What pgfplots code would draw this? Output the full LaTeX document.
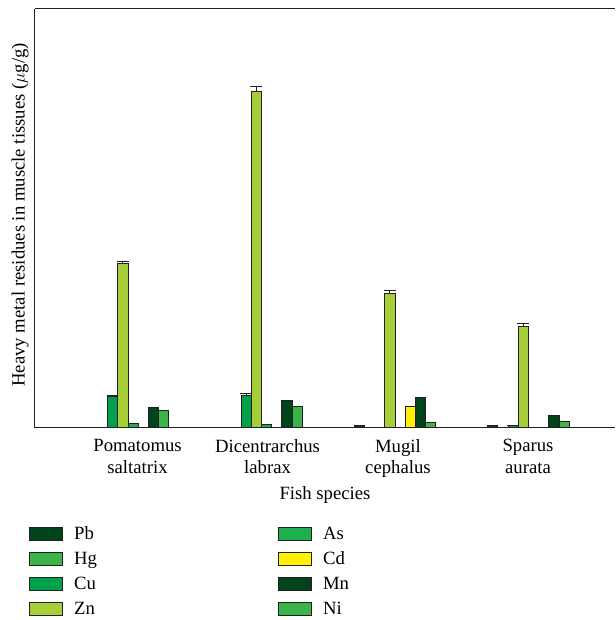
\documentclass[border=0pt]{standalone}
\usepackage{fontspec}
\setmainfont{Liberation Serif}
\usepackage{pgfplots}
\usepackage{pgfplotstable}
\pgfplotsset{compat=1.18}
\definecolor{cPb}{RGB}{0,68,27}
\definecolor{cHg}{RGB}{57,181,74}
\definecolor{cCu}{RGB}{0,161,75}
\definecolor{cZn}{RGB}{166,206,57}
\definecolor{cAs}{RGB}{30,176,78}
\definecolor{cCd}{RGB}{255,242,0}
\definecolor{cMn}{RGB}{0,68,27}
\definecolor{cNi}{RGB}{57,181,74}
\definecolor{edge}{RGB}{35,31,32}
% x: 0 Pomatomus, 1 Dicentrarchus, 2 Mugil, 3 Sparus (heights in arbitrary units)
\pgfplotstableread{
x Pb Hg Cu Cuerr Zn Znerr As Cd Mn Ni
0 0.3 0.3 31.5 1.0 164 2.0 4 nan 20 17.5
1 0.3 nan 32.5 1.5 336 5.0 3 nan 27.5 21
2 2 nan nan 0 134 3.0 nan 21 30 5
3 2 nan 2 0 101 3.0 nan 0.5 12.5 6.5
}\data
\begin{document}
\begin{tikzpicture}
\useasboundingbox (0,0) rectangle (615pt,-620pt);
\begin{axis}[
  at={(35pt,-9pt)}, anchor=north west,
  width=580pt, height=418.5pt, scale only axis,
  xmin=-0.697, xmax=3.648, ymin=0, ymax=418.5,
  axis x line*=bottom, axis y line*=left,
  axis line style={line width=1pt, color=edge},
  ytick=\empty,
  xtick={0.071,1.045,2.022,2.996},
  xticklabels={{Pomatomus\\saltatrix},{Dicentrarchus\\labrax},{Mugil\\cephalus},{Sparus\\aurata}},
  xticklabel style={align=center, font=\fontsize{18.7}{21.6}\selectfont, inner sep=0pt, anchor=north, yshift=-11.5pt},
  major tick length=0pt,
  xlabel={Fish species},
  ylabel={Heavy metal residues in muscle tissues ($\mu$g/g)},
  every axis x label/.style={at={(axis description cs:0.5,0)}, anchor=base, yshift=-71.5pt, font=\fontsize{18.7}{21}\selectfont},
  every axis y label/.style={at={(axis description cs:-0.018,0.508)}, rotate=90, anchor=base, font=\fontsize{18.7}{21}\selectfont},
  ybar, bar width=10.2pt,
  every axis plot post/.append style={draw=edge, line width=1pt,
    legend image code/.code={\draw[##1, draw=edge, line width=1pt] (0pt,-6.5pt) rectangle (33pt,6.5pt);}},
  error bars/error mark=|,
  error bars/error bar style={line width=1pt, draw=edge},
  error bars/error mark options={line width=1pt, draw=edge, mark size=6pt},
  legend columns=2,
  legend cell align=left,
  legend style={at={(axis description cs:-0.0103,-0.2318)}, anchor=north west, draw=none, fill=none,
    inner sep=0pt, font=\fontsize{18.7}{21}\selectfont, row sep=7pt,
    nodes={inner sep=0pt, text height=15pt, text depth=3pt},
    /tikz/every odd column/.append style={column sep=11pt},
    /tikz/every even column/.append style={column sep=181pt}},
]
\addplot[fill=cPb, bar shift=-35.7pt] table[x=x,y=Pb]{\data};
\addlegendentry{Pb}
\addplot[fill=cAs, bar shift=5.1pt] table[x=x,y=As]{\data};
\addlegendentry{As}
\addplot[fill=cHg, bar shift=-25.5pt] table[x=x,y=Hg]{\data};
\addlegendentry{Hg}
\addplot[fill=cCd, bar shift=15.3pt] table[x=x,y=Cd]{\data};
\addlegendentry{Cd}
\addplot[fill=cCu, bar shift=-15.3pt, error bars/.cd, y dir=plus, y explicit] table[x=x,y=Cu,y error=Cuerr]{\data};
\addlegendentry{Cu}
\addplot[fill=cMn, bar shift=25.5pt] table[x=x,y=Mn]{\data};
\addlegendentry{Mn}
\addplot[fill=cZn, bar shift=-5.1pt, error bars/.cd, y dir=plus, y explicit] table[x=x,y=Zn,y error=Znerr]{\data};
\addlegendentry{Zn}
\addplot[fill=cNi, bar shift=35.7pt] table[x=x,y=Ni]{\data};
\addlegendentry{Ni}
\draw[line width=1pt, edge] (rel axis cs:0,1) -- (rel axis cs:1,1);
\end{axis}
\end{tikzpicture}
\end{document}
